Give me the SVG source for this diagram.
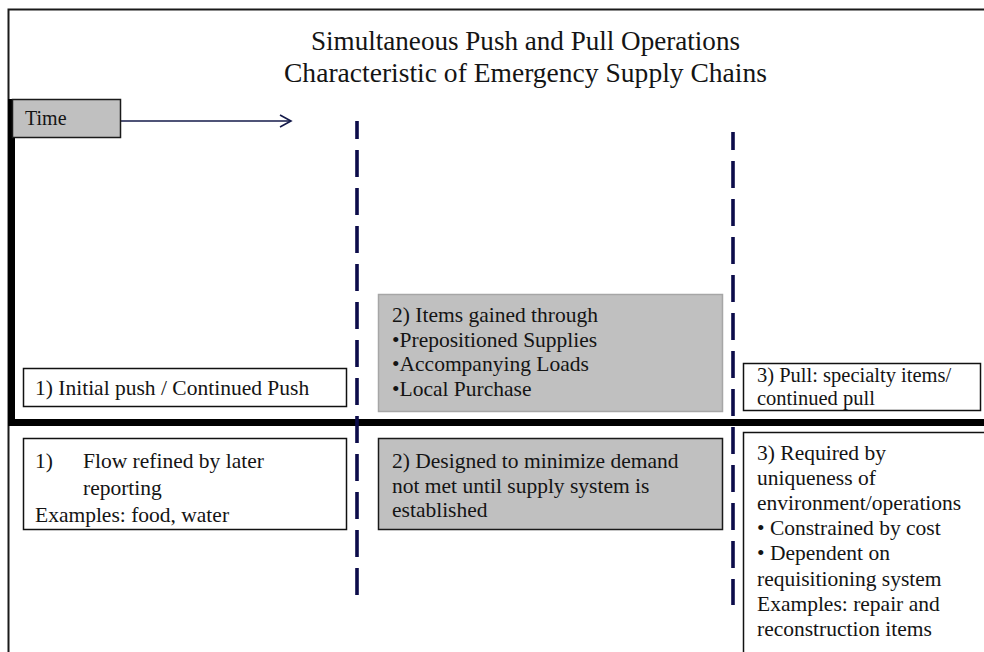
<svg xmlns="http://www.w3.org/2000/svg" width="984" height="652" viewBox="0 0 984 652">
  <defs>
    <style>
      .txt { font-family: "Liberation Serif", "Times New Roman", serif; font-size: 21.5px; fill: #141414; }
      .title { font-family: "Liberation Serif", "Times New Roman", serif; font-size: 28px; fill: #141414; text-anchor: middle; }
      .box-white { fill: #ffffff; stroke: #111111; stroke-width: 1.5; }
      .box-gray { fill: #c0c0c0; stroke: #1a1a1a; stroke-width: 1.5; }
      .box-soft { fill: #c0c0c0; stroke: #a6a6a6; stroke-width: 1.5; }
      .divider { fill: none; stroke: #0c0c4a; stroke-width: 3.6; stroke-dasharray: 27 11; stroke-dashoffset: 9; }
    </style>
  </defs>

  <rect x="0" y="0" width="984" height="652" fill="#ffffff"/>

  <!-- outer frame (left and top edges) -->
  <path d="M8.5,652 V9.5 H984" fill="none" stroke="#1a1a1a" stroke-width="2"/>

  <!-- title -->
  <g id="title">
    <text class="title" x="525.5" y="50" textLength="429" lengthAdjust="spacingAndGlyphs">Simultaneous Push and Pull Operations</text>
    <text class="title" x="525.5" y="82" textLength="483" lengthAdjust="spacingAndGlyphs">Characteristic of Emergency Supply Chains</text>
  </g>

  <!-- connectors: axes, time arrow, phase dividers -->
  <g id="connectors">
    <path d="M11.5,99 V426" fill="none" stroke="#000000" stroke-width="7"/>
    <path d="M8,422.5 H984" fill="none" stroke="#000000" stroke-width="7"/>
    <path d="M121,121 H291" fill="none" stroke="#141a4a" stroke-width="1.6"/>
    <path d="M280,115 L291,121 L280,127" fill="none" stroke="#141a4a" stroke-width="1.6"/>
    <path class="divider" d="M357,121 V595"/>
    <path class="divider" d="M733,132 V605"/>
  </g>

  <!-- time label -->
  <g id="time">
    <rect class="box-gray" x="12.5" y="99.5" width="108" height="38"/>
    <text class="txt" x="25" y="125" style="font-size:20px">Time</text>
  </g>

  <!-- phase 1 -->
  <g id="push-initial">
    <rect class="box-white" x="23.5" y="368.5" width="323" height="38"/>
    <text class="txt" x="35" y="395">1) Initial push / Continued Push</text>
  </g>
  <g id="push-refined">
    <rect class="box-white" x="23.5" y="438.5" width="323" height="91"/>
    <text class="txt" x="35" y="468">1)</text>
    <text class="txt" x="83" y="468">Flow refined by later</text>
    <text class="txt" x="83" y="495">reporting</text>
    <text class="txt" x="35" y="522">Examples: food, water</text>
  </g>

  <!-- phase 2 -->
  <g id="items-gained">
    <rect class="box-soft" x="378.5" y="294.5" width="344" height="117"/>
    <text class="txt" x="392" y="322">2) Items gained through</text>
    <text class="txt" x="392" y="346.5">•Prepositioned Supplies</text>
    <text class="txt" x="392" y="371">•Accompanying Loads</text>
    <text class="txt" x="392" y="395.5">•Local Purchase</text>
  </g>
  <g id="designed">
    <rect class="box-gray" x="378.5" y="438.5" width="344" height="91"/>
    <text class="txt" x="392" y="468">2) Designed to minimize demand</text>
    <text class="txt" x="392" y="492.5">not met until supply system is</text>
    <text class="txt" x="392" y="517">established</text>
  </g>

  <!-- phase 3 -->
  <g id="pull">
    <rect class="box-white" x="743.5" y="363.5" width="237" height="47"/>
    <text class="txt" x="757" y="382" style="font-size:20.5px">3) Pull: specialty items/</text>
    <text class="txt" x="757" y="405" style="font-size:20.5px">continued pull</text>
  </g>
  <g id="required">
    <rect class="box-white" x="743.5" y="432.5" width="260" height="240"/>
    <text class="txt" x="757" y="460">3) Required by</text>
    <text class="txt" x="757" y="485">uniqueness of</text>
    <text class="txt" x="757" y="510">environment/operations</text>
    <text class="txt" x="757" y="535">• Constrained by cost</text>
    <text class="txt" x="757" y="560">• Dependent on</text>
    <text class="txt" x="757" y="585.5">requisitioning system</text>
    <text class="txt" x="757" y="610.5">Examples: repair and</text>
    <text class="txt" x="757" y="635.5">reconstruction items</text>
  </g>
</svg>
